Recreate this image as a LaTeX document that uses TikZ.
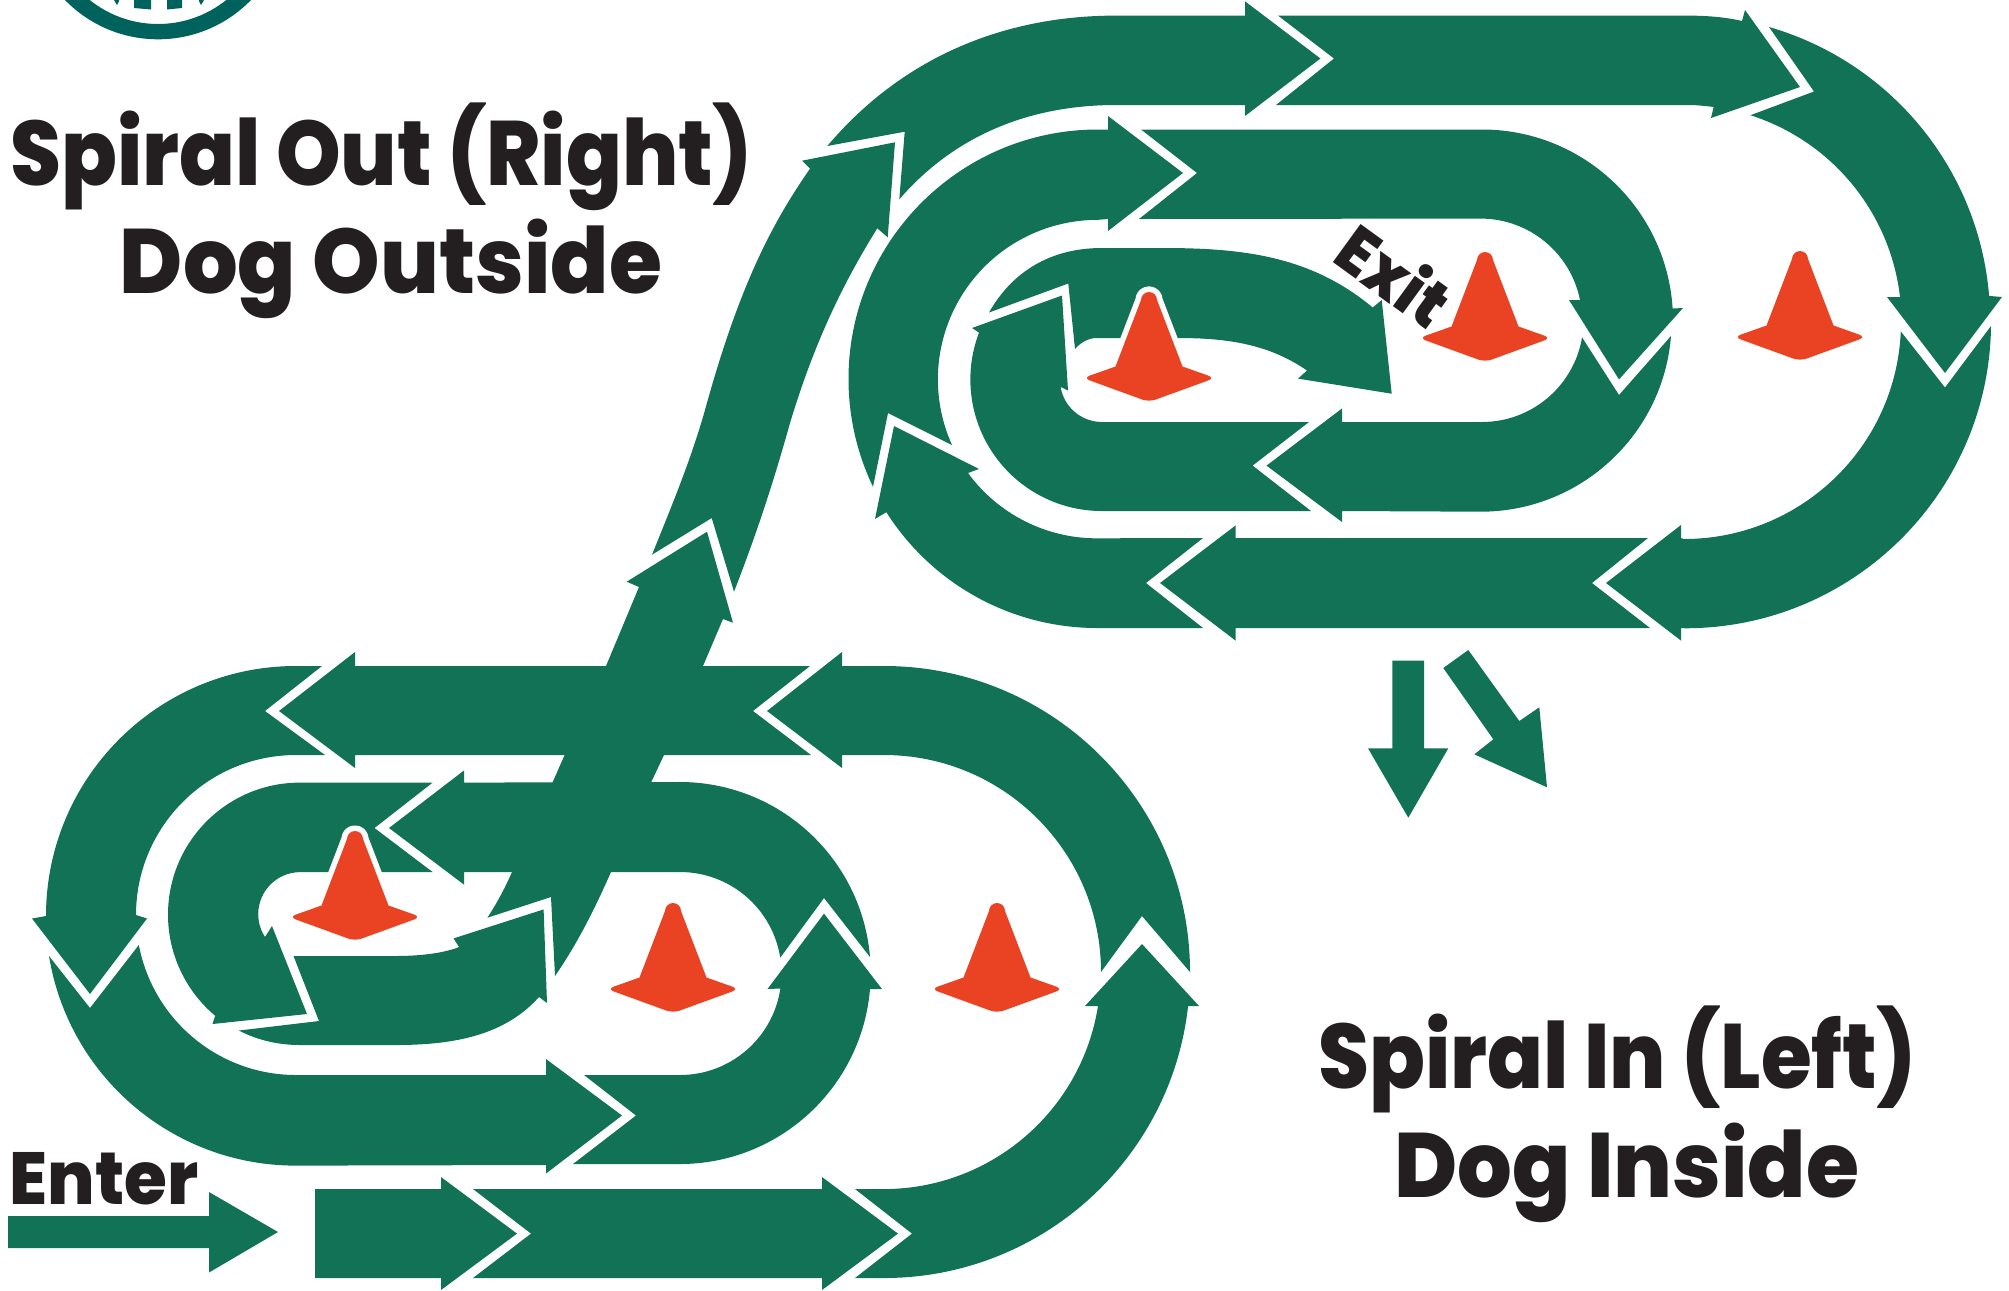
\documentclass[tikz,border=0pt]{standalone}
\usepackage{fontspec}
\setmainfont{Poppins ExtraBold}[FakeStretch=0.9]
\newfontfamily\widesign{Poppins ExtraBold}[FakeStretch=0.94]
\definecolor{trackgreen}{HTML}{117255}
\definecolor{conered}{HTML}{E94324}
\definecolor{logoteal}{HTML}{00625C}
\definecolor{signink}{HTML}{231F20}
\tikzset{
  track/.style={fill=trackgreen},
  conebody/.style={fill=conered, preaction={draw=white, line width=3.2pt, line join=round}},
  sign/.style={text=signink, inner sep=0pt, anchor=base, font=\fontsize{26}{30}\selectfont},
}
\begin{document}
\begin{tikzpicture}[x=0.01cm, y=0.01cm]
        \useasboundingbox (0,0) rectangle (2009,-1290);

        % logo at the top edge
        \begin{scope}
            \clip (0,0) rectangle (2009,-1290);
            \fill[logoteal, even odd rule] (158,90.4) circle[radius=129.7] (158,85) circle[radius=109];
            \fill[logoteal] (134,0) -- (134,-8) -- (151,-9.5) -- (151,0) -- cycle;
            \fill[logoteal] (167,0) -- (167,-9.5) -- (182,-8) -- (182,0) -- cycle;
            \fill[logoteal] (114,0) -- (117,-5) -- (119,-1) -- (119,0) -- cycle;
            \fill[logoteal] (199,0) -- (199,-1) -- (201,-5) -- (204,0) -- cycle;
        \end{scope}

        % lower spiral
        \fill[track] (8,-1216) -- (209,-1216) -- (209,-1192) -- (278,-1232) -- (209,-1272.5) -- (209,-1248) -- (8,-1248) -- cycle;
        \fill[track] (315,-1189) -- (441,-1189) -- (441,-1177) -- (517,-1233.6) -- (441,-1290) -- (441,-1278) -- (315,-1278) -- cycle;
        \fill[track] (473,-1189) -- (822,-1189) -- (822,-1177) -- (898,-1233.6) -- (822,-1290) -- (822,-1278) -- (473,-1278) -- (531,-1233.6) -- cycle;
        \fill[track] (855,-1189) -- (912,-1233.6) -- (855,-1278) -- (884,-1278) arc[start angle=-90, end angle=-6.4, radius=306] -- (1199,-1006) -- (1142,-944) -- (1085,-1006) -- (1098,-1006) arc[start angle=-9, end angle=-90, radius=217] -- cycle;
        \fill[track] (1142,-916) -- (1190,-972) arc[start angle=0, end angle=90, radius=306] -- (842,-666) -- (842,-652) -- (767,-711) -- (842,-768) -- (842,-755) -- (884,-755) arc[start angle=90, end angle=0, radius=217] -- cycle;
        \fill[track] (810,-666) -- (753,-711) -- (811,-755) -- (355,-755) -- (355,-768) -- (279,-711) -- (355,-652) -- (355,-666) -- cycle;
        \fill[track] (322,-666) -- (265,-711) -- (325,-755) -- (296,-755) arc[start angle=90, end angle=180, radius=160] -- (147,-918.5) -- (90,-994) -- (32,-918.5) -- (46,-916) arc[start angle=180, end angle=90, radius=250] -- cycle;
        \fill[track] (90,-1008) -- (49,-956) arc[start angle=189.3, end angle=270, radius=250] -- (546,-1165) -- (546,-1173.5) -- (622,-1115.5) -- (546,-1059) -- (546,-1075) -- (296,-1075) arc[start angle=270, end angle=190.8, radius=160] -- cycle;
        \fill[track] (636,-1115.5) -- (584,-1075) -- (680,-1075) arc[start angle=-90, end angle=-8.5, radius=101.5] -- (767.5,-989) -- (824,-913.6) -- (882,-989) -- (870,-989) arc[start angle=-4.8, end angle=-90, radius=191] -- (573,-1164) -- cycle;
        \fill[track] (824,-898) -- (870,-957) arc[start angle=4.8, end angle=90, radius=191] -- (464,-782.6) -- (464,-770.5) -- (389,-828) -- (464,-884.6) -- (464,-872) -- (680,-872) arc[start angle=90, end angle=9, radius=101.5] -- cycle;
        \fill[track] (374.5,-828) -- (432.6,-782.6) -- (300,-782.6) arc[start angle=90, end angle=230, radius=132] -- (212.5,-1024) -- (307,-1014) -- (272,-926) -- (265,-937) arc[start angle=213, end angle=90, radius=42] -- (432.6,-872) -- cycle;
        \fill[track] (319,-1021) -- (293.5,-956) -- (395.6,-956) .. controls (425,-956) and (447,-952) .. (459,-947) -- (453.6,-938.4) -- (543.6,-909.4) -- (547,-1003) -- (539,-997) .. controls (505,-1035) and (455,-1045) .. (395.6,-1045) -- (300,-1045) .. controls (278,-1045) and (257,-1040) .. (239,-1030.5) -- cycle;

        % way out of the lower spiral
        \fill[track] (487.4,-917.7) -- (551,-897) -- (555,-976) .. controls (575,-947) and (592,-915) .. (611,-872) -- (651,-782.6) -- (664,-755) -- (703,-666) -- (723,-619) -- (733,-622.7) -- (707,-531.7) -- (626.7,-581.7) -- (639,-587) -- (606,-666) -- (564.6,-755) -- (552.5,-782.6) -- (512,-872) .. controls (505,-888) and (497,-903) .. cycle;
        \fill[track] (652,-554.7) -- (711.7,-518) -- (734,-591.7) .. controls (758,-530) and (774,-480) .. (790,-423) .. controls (815,-340) and (845,-280) .. (877.3,-228.3) -- (887.7,-237.3) -- (895,-142.3) -- (802,-160.7) -- (810,-168.7) .. controls (770,-226) and (738,-290) .. (705,-410) .. controls (692,-456) and (675,-498) .. cycle;

        % upper spiral
        \fill[track] (827.3,-146) -- (904.7,-131.7) -- (899.3,-199.3) .. controls (955,-135) and (1030,-105) .. (1116,-105) -- (1245,-105) -- (1245,-116) -- (1320.4,-58.5) -- (1245,-1.3) -- (1245,-15.6) -- (1116,-15.6) .. controls (1000,-15.6) and (900,-60) .. cycle;
        \fill[track] (1278,-15.6) -- (1334,-58.5) -- (1276,-105) -- (1687,-105) .. controls (1697,-105) and (1706,-106) .. (1713.6,-107) -- (1711,-118) -- (1800,-87) -- (1745,-10) -- (1742,-21) .. controls (1725,-17) and (1706,-15.6) .. (1687,-15.6) -- cycle;
        \fill[track] (1814,-91.5) -- (1769,-27) arc[start angle=73.9, end angle=4.7, radius=306] -- (2002,-297) -- (1945,-373) -- (1887,-297) -- (1900,-297) arc[start angle=6.6, end angle=72.3, radius=217] -- cycle;
        \fill[track] (1945,-387.5) -- (1991,-326) arc[start angle=-0.7, end angle=-90, radius=306] -- (1681,-628) -- (1681,-640.6) -- (1606,-583) -- (1681,-525) -- (1681,-538) -- (1684,-539) arc[start angle=-90, end angle=-2.5, radius=217] -- cycle;
        \fill[track] (1592,-583) -- (1648,-538) -- (1235.6,-538) -- (1235.6,-525.4) -- (1160,-583) -- (1235.6,-640.6) -- (1235.6,-628) -- (1650,-628) -- cycle;
        \fill[track] (1146,-583) -- (1203,-628) -- (1097,-628) arc[start angle=270, end angle=212.4, radius=249.5] -- (875,-519) -- (894,-426) -- (979,-469) -- (968,-473) arc[start angle=216.2, end angle=270, radius=159.5] -- (1203,-538) -- cycle;
        \fill[track] (888,-413) -- (952,-445) arc[start angle=204.3, end angle=90, radius=159.5] -- (1108,-219) -- (1108,-231) -- (1183,-173) -- (1108,-116) -- (1108,-129.5) -- (1098,-129.5) arc[start angle=90, end angle=205.6, radius=249.5] -- cycle;
        \fill[track] (1197,-173) -- (1141,-129.5) -- (1482,-129.5) arc[start angle=90, end angle=3.6, radius=191] -- (1683,-308) -- (1619,-379.4) -- (1569,-300) -- (1580,-300) arc[start angle=11.4, end angle=90, radius=101.5] -- (1139,-219) -- cycle;
        \fill[track] (1619,-395) -- (1671,-336) arc[start angle=-4.6, end angle=-90, radius=191] -- (1342,-511) -- (1342,-522) -- (1266.5,-465.6) -- (1342,-408.5) -- (1342,-422) -- (1482,-422) arc[start angle=-90, end angle=-9.6, radius=101.5] -- cycle;
        \fill[track] (1252.6,-465.6) -- (1309,-422) -- (1102,-422) arc[start angle=270, end angle=189.4, radius=42] -- (1068,-390.6) -- (1062,-295.5) -- (972,-328) -- (979,-332.6) arc[start angle=159.1, end angle=270, radius=131.5] -- (1311,-511) -- cycle;
        \fill[track] (989,-312.5) -- (1068.3,-283.5) -- (1075,-349) .. controls (1080,-343) and (1088,-338) .. (1097,-338) -- (1178,-338) .. controls (1230,-338) and (1270,-345) .. (1307,-370.5) -- (1298,-378.6) -- (1391.7,-393.7) -- (1381.7,-300) -- (1372.7,-307.5) .. controls (1310,-255) and (1240,-248) .. (1162,-248) -- (1102,-248) .. controls (1050,-248) and (1012,-272) .. cycle;

        % the two small arrows
        \fill[track] (1392.3,-660.7) -- (1424,-660.7) -- (1424,-748.3) -- (1448.3,-748.3) -- (1408.3,-817.7) -- (1368,-748.3) -- (1392.3,-748.3) -- cycle;
        \fill[track] (1443.3,-668) -- (1468.3,-650) -- (1519.3,-721) -- (1539.3,-707.3) -- (1547,-787.3) -- (1474.3,-754.3) -- (1493.3,-739.3) -- cycle;

        % cones
        \foreach \cx/\cy in {355/830, 673/902, 997/902, 1149/291, 1485/251, 1800/250} {
            \path[conebody] ({\cx+8},{-\cy-9}) arc[start angle=0, end angle=180, radius=8] -- ({\cx-33.5},{-\cy-75.5}) [rounded corners=2pt] -- ({\cx-66},{-\cy-87}) -- (\cx,{-\cy-111}) -- ({\cx+66},{-\cy-87}) [sharp corners] -- ({\cx+33.5},{-\cy-75.5}) -- cycle;
        }

        % labels
        \node[sign] (spiralout) at (381,-185) {Spiral Out (Right)};
        \node[sign] (dogoutside) at (391,-293) {\widesign Dog Outside};
        \node[sign] (spiralin) at (1617,-1088) {Spiral In (Left)};
        \node[sign] (doginside) at (1627,-1197) {\widesign Dog Inside};
        \node[sign, font=\fontsize{21}{25}\selectfont\widesign] (enter) at (104,-1204.5) {Enter};
        \node[sign, anchor=center, rotate=-36, font=\fontsize{19}{22}\selectfont\widesign] (exit) at (1395,-274) {Exit};
    \end{tikzpicture}
\end{document}
